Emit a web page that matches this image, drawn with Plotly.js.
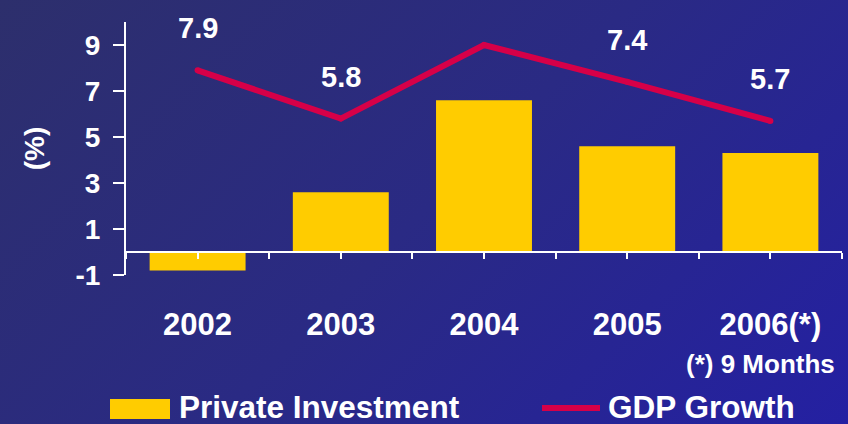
<!DOCTYPE html>
<html>
<head>
<meta charset="utf-8">
<script src="https://cdn.plot.ly/plotly-3.0.1.min.js"></script>
<style>
  html, body { margin: 0; padding: 0; }
  body { width: 848px; height: 424px; overflow: hidden;
         background: linear-gradient(135deg, #2d2f6c 0%, #2a2a84 50%, #2420a2 100%); }
  #chart { width: 848px; height: 424px; }
</style>
</head>
<body>
<div id="chart"></div>
<script>
const categories = ["2002", "2003", "2004", "2005", "2006(*)"];
const privateInvestment = [-0.8, 2.6, 6.6, 4.6, 4.3];
const gdpGrowth = [7.9, 5.8, 9.0, 7.4, 5.7];
const yTicks = [-1, 1, 3, 5, 7, 9];
const seriesNames = ["Private Investment", "GDP Growth"];
const footnote = "(*) 9 Months";

const xIdx = categories.map((_, i) => i);
const FONT = "Liberation Sans, Arial, sans-serif";
const YELLOW = "#ffcc00";
const CRIMSON = "#d60048";

const W = 848, H = 424;
const M = { l: 126, r: 6, t: 22, b: 149 };
const PW = W - M.l - M.r, PH = H - M.t - M.b;
// pixel -> paper (plot-area relative) converters for layout decorations
const px = x => (x - M.l) / PW, py = y => (H - M.b - y) / PH;

const traces = [
  { type: "bar", x: xIdx, y: privateInvestment, name: seriesNames[0],
    marker: { color: YELLOW }, width: 0.67, showlegend: false, hoverinfo: "skip" },
  { type: "scatter", mode: "lines+markers", x: xIdx, y: gdpGrowth, name: seriesNames[1],
    line: { color: CRIMSON, width: 6 }, marker: { color: CRIMSON, size: 6 },
    showlegend: false, hoverinfo: "skip" }
];

const annotations = gdpGrowth.map((v, i) => ({
  x: i, y: Math.min(v + 1.83, 10.17), xref: "x", yref: "y",
  text: "<b>" + v.toFixed(1) + "</b>", showarrow: false, yanchor: "middle",
  font: { family: FONT, size: 29, color: "white" }
}));
const paperNotes = [
  { x: 760, y: 364, text: "<b>" + footnote + "</b>", size: 26, anchor: "center" },
  { x: 178, y: 407, text: "<b>" + seriesNames[0] + "</b>", size: 31.5, anchor: "left" },
  { x: 607, y: 407, text: "<b>" + seriesNames[1] + "</b>", size: 31.5, anchor: "left" }
];
paperNotes.forEach(n => annotations.push({
  x: px(n.x), y: py(n.y), xref: "paper", yref: "paper", text: n.text,
  xanchor: n.anchor, yanchor: "middle", borderpad: 0,
  showarrow: false, font: { family: FONT, size: n.size, color: "white" }
}));

const shapes = [
  { type: "rect", xref: "paper", yref: "paper", x0: px(110), x1: px(170), y0: py(419), y1: py(399),
    fillcolor: YELLOW, line: { width: 0 } },
  { type: "line", xref: "paper", yref: "paper", x0: px(542), x1: px(600), y0: py(408), y1: py(408),
    line: { color: CRIMSON, width: 6 } }
];

const layout = {
  width: W, height: H,
  margin: M,
  paper_bgcolor: "rgba(0,0,0,0)", plot_bgcolor: "rgba(0,0,0,0)",
  showlegend: false,
  xaxis: {
    range: [-0.5, 4.5], tickvals: xIdx, ticktext: categories.map(c => "<b>" + c + "</b>"),
    anchor: "free", position: 1 / 11,
    showline: true, linecolor: "white", linewidth: 2,
    ticks: "outside", ticklen: 6, tickwidth: 2, tickcolor: "white",
    minor: { tick0: 0.5, dtick: 1, ticks: "outside", ticklen: 6, tickwidth: 2, tickcolor: "white" },
    ticklabelstandoff: 39,
    tickfont: { family: FONT, size: 31, color: "white" },
    showgrid: false, zeroline: false, fixedrange: true
  },
  yaxis: {
    range: [-1, 10], tickvals: yTicks, ticktext: yTicks.map(t => "<b>" + t + "</b>"),
    showline: true, linecolor: "white", linewidth: 2,
    ticks: "outside", ticklen: 11, tickwidth: 2, tickcolor: "white",
    ticklabelstandoff: 7,
    tickfont: { family: FONT, size: 28, color: "white" },
    title: { text: "<b>(%)</b>", standoff: 23, font: { family: FONT, size: 28, color: "white" } },
    showgrid: false, zeroline: false, fixedrange: true
  },
  annotations: annotations,
  shapes: shapes
};

Plotly.newPlot("chart", traces, layout, { displayModeBar: false, staticPlot: true });
</script>
</body>
</html>
